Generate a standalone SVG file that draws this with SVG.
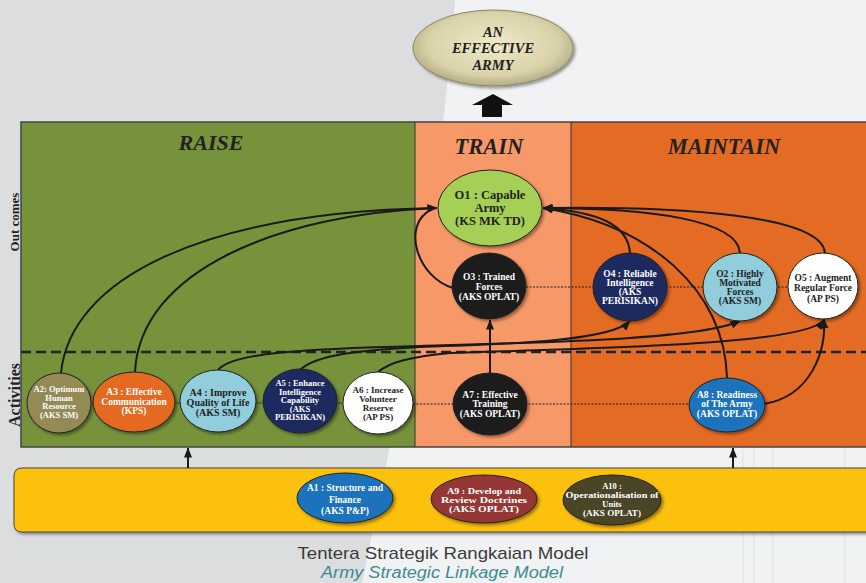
<svg xmlns="http://www.w3.org/2000/svg" width="866" height="583" viewBox="0 0 866 583">
<defs>
<marker id="ah" viewBox="0 0 10 8" refX="9.5" refY="4" markerWidth="10" markerHeight="8" markerUnits="userSpaceOnUse" orient="auto">
<path d="M0,0 L10,4 L0,8 Z" fill="#1a1a1a"/>
</marker>
<filter id="sh" x="-20%" y="-20%" width="150%" height="150%">
<feDropShadow dx="2" dy="2" stdDeviation="1.5" flood-color="#000" flood-opacity="0.4"/>
</filter>
<radialGradient id="gold" cx="50%" cy="45%" r="55%">
<stop offset="0" stop-color="#efe9c8"/>
<stop offset="0.75" stop-color="#d9d2a9"/>
<stop offset="1" stop-color="#b4ac84"/>
</radialGradient>
<style>
.title{font-family:"Liberation Serif",serif;font-weight:bold;font-style:italic;fill:#222;text-anchor:middle}
.nt{font-family:"Liberation Serif",serif;font-weight:bold;text-anchor:middle}
.w{fill:#ffffff}
.d{fill:#222222}
.node{stroke:#222;stroke-width:1;filter:url(#sh)}
.con{fill:none;stroke:#1a1a1a;stroke-width:2}
.dot{fill:none;stroke:#222;stroke-width:1;stroke-dasharray:2,1.5}
.div{stroke:#333;stroke-width:1}
</style>
</defs>

<g id="background">
<rect width="866" height="583" fill="#f1f2f3"/>
<path d="M0,0 L455,0 C 440,200 400,400 362,583 L0,583 Z" fill="#dcdddf"/>
<g stroke="#dedfe1" stroke-width="1">
<line x1="743" y1="447" x2="743" y2="583"/>
<line x1="754" y1="447" x2="754" y2="583"/>
<line x1="773" y1="447" x2="773" y2="583"/>
<line x1="845" y1="447" x2="845" y2="583"/>
</g>
</g>

<g id="panel">
<rect x="21" y="122" width="394" height="325" fill="#76933c"/>
<rect x="415" y="122" width="156" height="325" fill="#f79868"/>
<rect x="571" y="122" width="300" height="325" fill="#e46b24"/>
<path d="M866,122 L21,122 L21,447 L866,447" fill="none" stroke="#444" stroke-width="1.5"/>
<line class="div" x1="415" y1="122" x2="415" y2="447"/>
<line class="div" x1="571" y1="122" x2="571" y2="447"/>
<line x1="21" y1="352" x2="866" y2="352" stroke="#222" stroke-width="2.5" stroke-dasharray="10,5"/>
<text class="title" x="211" y="150" font-size="22">RAISE</text>
<text class="title" x="489" y="154" font-size="22.5">TRAIN</text>
<text class="title" x="724" y="154" font-size="22.5">MAINTAIN</text>
<text class="nt d" font-size="13" transform="translate(19,222) rotate(-90)">Out comes</text>
<text class="nt d" font-size="16" transform="translate(20,395) rotate(-90)">Activities</text>
</g>

<g id="goal">
<ellipse cx="493" cy="48" rx="80" ry="38" fill="url(#gold)" stroke="#8c8666" stroke-width="1" filter="url(#sh)"/>
<text class="title" font-size="14.5"><tspan x="493" y="37">AN</tspan><tspan x="493" y="53">EFFECTIVE</tspan><tspan x="493" y="70">ARMY</tspan></text>
<path d="M493,94 L513,105 L502,105 L502,117 L482,117 L482,105 L472,105 Z" fill="#111"/>
</g>

<g id="bottom-band">
<path d="M22,468 L880,468 L880,532 L22,532 Q14,532 14,524 L14,476 Q14,468 22,468 Z" fill="#fcc111" stroke="#444" stroke-width="1" filter="url(#sh)"/>
</g>

<g id="connectors">
<line x1="91" y1="403" x2="343" y2="403" stroke="#333" stroke-width="0.8"/>
<path class="dot" d="M413,404 L690,404"/>
<path class="dot" d="M526,287 L788,287"/>
<path class="con" marker-end="url(#ah)" d="M61,373 C 70,280 200,212 437,208"/>
<path class="con" marker-end="url(#ah)" d="M135,372 C 140,270 280,214 437,208"/>
<path class="con" d="M453,288 C 418,278 400,225 432,209"/>
<path class="con" marker-end="url(#ah)" d="M490,374 L490,320"/>
<path class="con" marker-end="url(#ah)" d="M630,253 C 628,225 600,212 543,208"/>
<path class="con" marker-end="url(#ah)" d="M740,253 C 738,220 650,208 543,208"/>
<path class="con" marker-end="url(#ah)" d="M825,253 C 822,215 680,206 543,208"/>
<path class="con" marker-end="url(#ah)" d="M727,378 C 725,290 650,225 543,208"/>
<path class="con" marker-end="url(#ah)" d="M764,404 C 812,396 826,350 824,319"/>
<path class="con" marker-end="url(#ah)" d="M218,370 C 232,353 300,349 420,346 C 560,342 700,339 740,321"/>
<path class="con" marker-end="url(#ah)" d="M300,370 C 315,355 360,350 420,347 C 520,344 612,340 630,321"/>
<path class="con" marker-end="url(#ah)" d="M378,372 C 390,362 410,357 450,353 C 600,348 805,345 824,320"/>
<path class="con" stroke-width="2" marker-end="url(#ah)" d="M188,468 L188,448"/>
<path class="con" stroke-width="2" marker-end="url(#ah)" d="M733,468 L733,448"/>
</g>

<g id="O1">
<ellipse class="node" cx="490" cy="208" rx="52" ry="38" fill="#a6cf55"/>
<text class="nt d" font-size="12.5"><tspan x="490" y="199">O1 : Capable</tspan><tspan x="490" y="212">Army</tspan><tspan x="490" y="225">(KS MK TD)</tspan></text>
</g>
<g id="O3">
<ellipse class="node" cx="489" cy="286" rx="37" ry="33" fill="#1c1c1c"/>
<text class="nt w" font-size="9.5"><tspan x="489" y="280">O3 : Trained</tspan><tspan x="489" y="290">Forces</tspan><tspan x="489" y="300">(AKS OPLAT)</tspan></text>
</g>
<g id="O4">
<ellipse class="node" cx="630" cy="287" rx="37" ry="34" fill="#1f295e"/>
<text class="nt w" font-size="9.5"><tspan x="630" y="277">O4 : Reliable</tspan><tspan x="630" y="286">Intelligence</tspan><tspan x="630" y="295">(AKS</tspan><tspan x="630" y="304">PERISIKAN)</tspan></text>
</g>
<g id="O2">
<ellipse class="node" cx="740" cy="287" rx="37" ry="34" fill="#92cddc"/>
<text class="nt d" font-size="9.5"><tspan x="740" y="277">O2 : Highly</tspan><tspan x="740" y="286">Motivated</tspan><tspan x="740" y="295">Forces</tspan><tspan x="740" y="304">(AKS SM)</tspan></text>
</g>
<g id="O5">
<ellipse class="node" cx="823" cy="286" rx="35" ry="33" fill="#ffffff"/>
<text class="nt d" font-size="9.5"><tspan x="823" y="281">O5 : Augment</tspan><tspan x="823" y="291">Regular Force</tspan><tspan x="823" y="302">(AP PS)</tspan></text>
</g>

<g id="A2">
<ellipse class="node" cx="59" cy="403" rx="32" ry="30" fill="#948a54"/>
<text class="nt w" font-size="8.5"><tspan x="59" y="392">A2: Optimum</tspan><tspan x="59" y="400.5">Human</tspan><tspan x="59" y="409">Resource</tspan><tspan x="59" y="417.5">(AKS SM)</tspan></text>
</g>
<g id="A3">
<ellipse class="node" cx="134" cy="402" rx="41" ry="30" fill="#e46b24"/>
<text class="nt w" font-size="9.5"><tspan x="134" y="395">A3 : Effective</tspan><tspan x="134" y="404.5">Communication</tspan><tspan x="134" y="414">(KPS)</tspan></text>
</g>
<g id="A4">
<ellipse class="node" cx="218" cy="401" rx="38" ry="31" fill="#92cddc"/>
<text class="nt d" font-size="10"><tspan x="218" y="396">A4 : Improve</tspan><tspan x="218" y="406">Quality of Life</tspan><tspan x="218" y="416">(AKS SM)</tspan></text>
</g>
<g id="A5">
<ellipse class="node" cx="300" cy="401" rx="37" ry="32" fill="#1f295e"/>
<text class="nt w" font-size="8.5"><tspan x="300" y="386">A5 :  Enhance</tspan><tspan x="300" y="394.5">Intelligence</tspan><tspan x="300" y="403">Capability</tspan><tspan x="300" y="411.5">(AKS</tspan><tspan x="300" y="420">PERISIKAN)</tspan></text>
</g>
<g id="A6">
<ellipse class="node" cx="378" cy="403" rx="35" ry="31" fill="#ffffff"/>
<text class="nt d" font-size="9"><tspan x="378" y="393">A6 : Increase</tspan><tspan x="378" y="402">Volunteer</tspan><tspan x="378" y="411">Reserve</tspan><tspan x="378" y="420">(AP PS)</tspan></text>
</g>
<g id="A7">
<ellipse class="node" cx="490" cy="404" rx="37" ry="31" fill="#1c1c1c"/>
<text class="nt w" font-size="9.5"><tspan x="490" y="397.5">A7 : Effective</tspan><tspan x="490" y="407">Training</tspan><tspan x="490" y="416.5">(AKS OPLAT)</tspan></text>
</g>
<g id="A8">
<ellipse class="node" cx="727" cy="405" rx="38" ry="27" fill="#1a72bb"/>
<text class="nt w" font-size="9.5"><tspan x="727" y="397.5">A8 : Readiness</tspan><tspan x="727" y="407">of The Army</tspan><tspan x="727" y="416.5">(AKS OPLAT)</tspan></text>
</g>

<g id="A1">
<ellipse class="node" cx="345" cy="498" rx="48" ry="25" fill="#1a72bb"/>
<text class="nt w" font-size="9.5"><tspan x="345" y="491" textLength="76" lengthAdjust="spacingAndGlyphs">A1 : Structure and</tspan><tspan x="345" y="503">Finance</tspan><tspan x="345" y="514">(AKS P&amp;P)</tspan></text>
</g>
<g id="A9">
<ellipse class="node" cx="484" cy="499" rx="53" ry="24" fill="#953735"/>
<text class="nt w" font-size="9"><tspan x="484" y="494" textLength="74" lengthAdjust="spacingAndGlyphs">A9 : Develop and</tspan><tspan x="484" y="503" textLength="86" lengthAdjust="spacingAndGlyphs">Review Doctrines</tspan><tspan x="484" y="512" textLength="70" lengthAdjust="spacingAndGlyphs">(AKS OPLAT)</tspan></text>
</g>
<g id="A10">
<ellipse class="node" cx="612" cy="500" rx="49" ry="25" fill="#4a4526"/>
<text class="nt w" font-size="8.5"><tspan x="612" y="489">A10 :</tspan><tspan x="612" y="498" textLength="93" lengthAdjust="spacingAndGlyphs">Operationalisation of</tspan><tspan x="612" y="507">Units</tspan><tspan x="612" y="516" textLength="58" lengthAdjust="spacingAndGlyphs">(AKS OPLAT)</tspan></text>
</g>

<g id="caption">
<text x="443" y="559" font-family="Liberation Sans, sans-serif" font-size="17" fill="#3a3a3a" text-anchor="middle" textLength="291" lengthAdjust="spacingAndGlyphs">Tentera Strategik Rangkaian Model</text>
<text x="442" y="578" font-family="Liberation Sans, sans-serif" font-size="16" font-style="italic" fill="#3e8a90" text-anchor="middle" textLength="242" lengthAdjust="spacingAndGlyphs">Army Strategic Linkage Model</text>
</g>
</svg>
